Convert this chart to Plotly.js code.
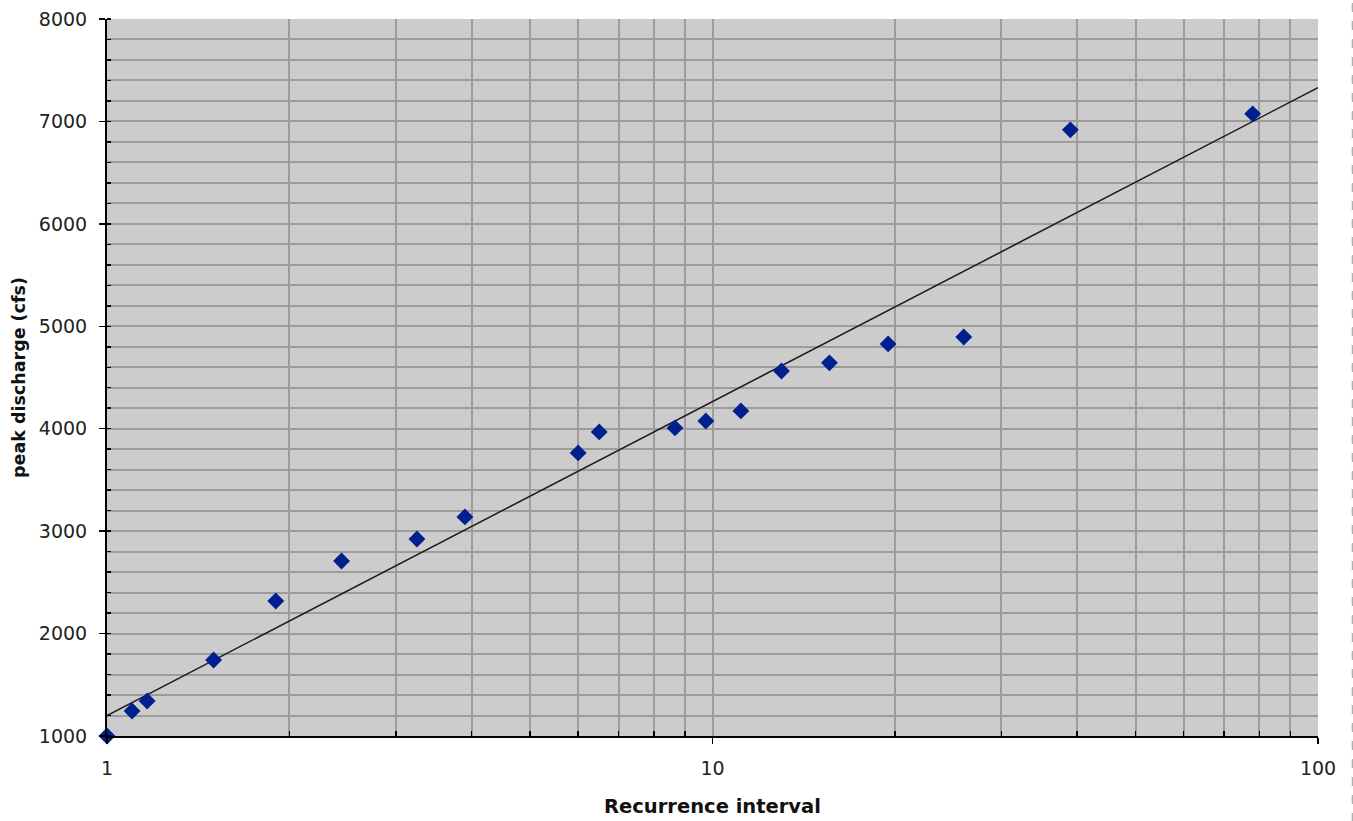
<!DOCTYPE html>
<html>
<head>
<meta charset="utf-8">
<script src="https://cdn.plot.ly/plotly-3.0.1.min.js"></script>
<style>html,body{margin:0;padding:0;background:#fff;}#chart{width:1353px;height:821px;}</style>
</head>
<body>
<div id="chart"></div>
<script>
// Recurrence interval (years) and peak discharge (cfs)
var recurrence = [1.0, 1.10, 1.165, 1.50, 1.90, 2.44, 3.25, 3.90, 6.0, 6.5, 8.67, 9.75, 11.14, 13.0, 15.6, 19.5, 26.0, 39.0, 78.0];
var discharge  = [1000, 1244, 1342, 1742, 2318, 2709, 2924, 3139, 3764, 3969, 4008, 4076, 4174, 4564, 4643, 4828, 4896, 6918, 7074];
// Logarithmic trend line end points
var trendX = [1, 100];
var trendY = [1200, 7330];
var xTickVals = [1, 10, 100];
var xTickText = ['1', '10', '100'];
var xMinorVals = [2,3,4,5,6,7,8,9,20,30,40,50,60,70,80,90];

var font = 'DejaVu Sans, Verdana, sans-serif';
var grid = '#9c9c9c';

var traces = [
  {x: trendX, y: trendY, mode: 'lines', type: 'scatter',
   line: {color: '#1a1a1a', width: 1.5}, hoverinfo: 'skip', showlegend: false},
  {x: recurrence, y: discharge, mode: 'markers', type: 'scatter', cliponaxis: false,
   marker: {symbol: 'diamond', size: 13, color: '#002090'}, showlegend: false}
];

var layout = {
  width: 1353, height: 821,
  margin: {l: 107, r: 35, t: 19, b: 85},
  paper_bgcolor: '#ffffff',
  plot_bgcolor: '#cccccc',
  showlegend: false,
  font: {family: font, color: '#222', size: 19},
  xaxis: {
    type: 'log', range: [0, 2],
    tickmode: 'array', tickvals: xTickVals, ticktext: xTickText,
    ticks: 'outside', ticklen: 6, tickcolor: '#000', tickwidth: 1.5,
    ticklabelstandoff: 8,
    showline: true, linecolor: '#000', linewidth: 2, mirror: false,
    showgrid: true, gridcolor: grid, gridwidth: 2,
    zeroline: false,
    tickfont: {size: 19, color: '#222', family: font},
    minor: {tickmode: 'array', tickvals: xMinorVals, ticks: 'inside', ticklen: 5,
            tickcolor: '#000', tickwidth: 1.5, showgrid: true, gridcolor: grid, gridwidth: 2},
    title: {text: '<b>Recurrence interval</b>', font: {size: 19.5, color: '#111', family: font}, standoff: 22}
  },
  yaxis: {
    range: [1000, 8000], dtick: 1000, tick0: 0,
    ticks: 'outside', ticklen: 6, tickcolor: '#000', tickwidth: 1.5,
    ticklabelstandoff: 8,
    showline: true, linecolor: '#000', linewidth: 2, mirror: false,
    showgrid: true, gridcolor: grid, gridwidth: 2,
    zeroline: false,
    tickfont: {size: 19, color: '#222', family: font},
    minor: {dtick: 200, ticks: 'inside', ticklen: 4, tickcolor: '#000', tickwidth: 1.5,
            showgrid: true, gridcolor: grid, gridwidth: 2},
    title: {text: '<b>peak discharge (cfs)</b>', font: {size: 17.5, color: '#111', family: font}, standoff: 9}
  },
  shapes: [
    {type: 'line', xref: 'paper', yref: 'paper', x0: 1.0283, x1: 1.0283, y0: -0.12, y1: 1.03,
     line: {color: '#999999', width: 1, dash: 'dash'}}
  ]
};

Plotly.newPlot('chart', traces, layout, {displayModeBar: false, staticPlot: true});
</script>
</body>
</html>
